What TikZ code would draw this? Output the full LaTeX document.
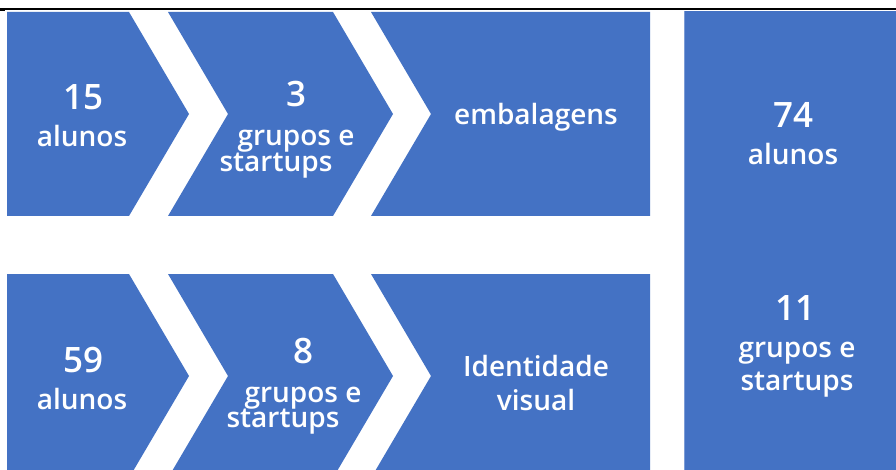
\documentclass[tikz,border=0pt]{standalone}
\usepackage{fontspec}
\setmainfont{Open Sans}[BoldFont={Open Sans Semibold}]
\begin{document}
\begin{tikzpicture}[x=1pt,y=-1pt,
  blk/.style={fill=blue1,draw=none},
  num/.style={text=white,anchor=base,inner sep=0pt,font=\bfseries\fontsize{35}{40}\selectfont},
  lbl/.style={text=white,anchor=base,inner sep=0pt,font=\bfseries\fontsize{28}{34}\selectfont}]
\definecolor{blue1}{HTML}{4472C4}
\useasboundingbox (0,0) rectangle (896,470);
\fill[white] (0,0) rectangle (896,470);
\draw[black,line width=1.3pt] (0,9) -- (896,9);
\fill[black] (0,9) rectangle (5,11.5);
\begin{scope}
\clip (0,0) rectangle (896,470);
% top row
\fill[blk] (7,12) -- (129,12) -- (189,114) -- (129,216) -- (7,216) -- cycle;
\fill[blk] (168,12) -- (333,12) -- (393,114) -- (333,216) -- (168,216) -- (228,114) -- cycle;
\fill[blk] (371,12) -- (650,12) -- (650,216) -- (371,216) -- (431,114) -- cycle;
% bottom row
\fill[blk] (7,274) -- (129,274) -- (189,376) -- (129,478) -- (7,478) -- cycle;
\fill[blk] (168,274) -- (333,274) -- (393,376) -- (333,478) -- (168,478) -- (228,376) -- cycle;
\fill[blk] (371,274) -- (650,274) -- (650,478) -- (371,478) -- (431,376) -- cycle;
% right box
\fill[blk] (684,11) rectangle (900,475);
\draw[blue1!70!white,line width=0.8pt] (684.4,11) -- (684.4,475);
\end{scope}
% texts top
\node[num] (n15) at (83,110) {15};
\node[lbl] (l15) at (82,147) {alunos};
\node[num] (n3) at (296,107) {3};
\node[lbl] (g3) at (296,146) {grupos e};
\node[lbl] (s3) at (276,172) {startups};
\node[lbl] (emb) at (536,125) {embalagens};
% texts bottom
\node[num] (n59) at (83,372) {59};
\node[lbl] (l59) at (82,409) {alunos};
\node[num] (n8) at (303,363) {8};
\node[lbl] (g8) at (303,402) {grupos e};
\node[lbl] (s8) at (283,427) {startups};
\node[lbl] (idv) at (536,376) {Identidade};
\node[lbl] (vis) at (536,410) {visual};
% right box
\node[num] (n74) at (793,128) {74};
\node[lbl] (l74) at (793,165) {alunos};
\node[num] (n11) at (795,320) {11};
\node[lbl] (g11) at (797,357) {grupos e};
\node[lbl] (s11) at (797,390) {startups};
\end{tikzpicture}
\end{document}
